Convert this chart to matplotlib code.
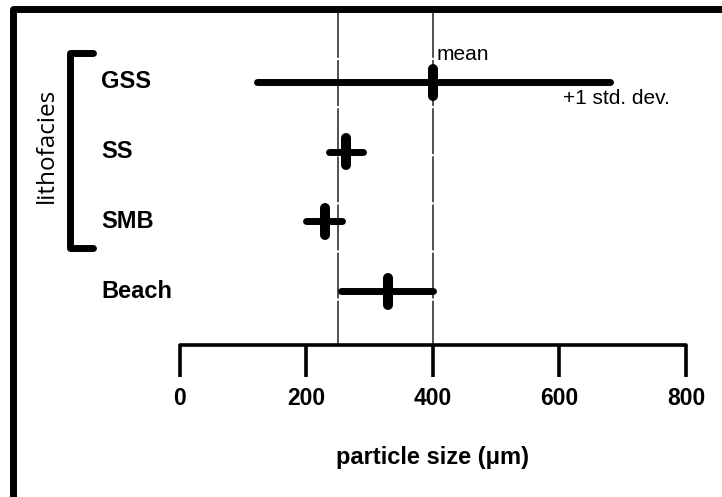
import matplotlib
matplotlib.use("Agg")
import matplotlib.pyplot as plt
from matplotlib.patches import Rectangle

# ---- data ----
categories = ["GSS", "SS", "SMB", "Beach"]
means = [400, 263, 230, 330]
lows = [122, 236, 200, 255]
highs = [680, 290, 257, 400]
ref_lines = [250, 400]
xticks = [0, 200, 400, 600, 800]
xlabel = "particle size (\u03bcm)"
group_label = "lithofacies"

W, H, DPI = 722, 497, 100
fig = plt.figure(figsize=(W / DPI, H / DPI), dpi=DPI)
plt.rcParams['font.family'] = ['Liberation Sans', 'DejaVu Sans']

# pixel mapping: x=0 -> 179.5 px, x=800 -> 686 px
px0, px800 = 179.5, 686.0
sx = (px800 - px0) / 800.0
xmin = -px0 / sx
xmax = (W - px0) / sx
# y: row 0 -> 82 px from top, row 3 -> 291 px
py0, py3 = 82.0, 291.0
sy = (py3 - py0) / 3.0
ytop = -py0 / sy
ybot = (H - py0) / sy

ax = fig.add_axes([0, 0, 1, 1])
ax.set_xlim(xmin, xmax)
ax.set_ylim(ybot, ytop)
ax.axis("off")

def ypx(py):
    return (py - py0) / sy

def xpx(px):
    return (px - px0) / sx

axis_py = 345.0
half = 13.5 / sy

# reference lines
for v in ref_lines:
    ax.plot([v, v], [ypx(12), ypx(axis_py)], color="#222222", lw=1.1,
            linestyle=(0, (30, 1.5)), zorder=1)

# bars
for i, (m, lo, hi) in enumerate(zip(means, lows, highs)):
    ax.plot([lo, hi], [i, i], color="black", lw=5.0, solid_capstyle="round", zorder=3)
    ax.plot([m, m], [i - half, i + half], color="black", lw=7.2,
            solid_capstyle="round", zorder=4)
    ax.text(xpx(101), i, categories[i], fontsize=17, fontweight="bold",
            ha="left", va="center")

ax.text(means[0] + 4 / sx, ypx(55), "mean", fontsize=15, ha="left", va="center")
ax.text(xpx(670), ypx(98), "+1 std. dev.", fontsize=15, ha="right", va="center")

# bracket
ax.plot([xpx(93), xpx(70), xpx(70), xpx(93)],
        [ypx(53), ypx(53), ypx(248), ypx(248)], color="black", lw=5.0,
        solid_capstyle="round", solid_joinstyle="round", clip_on=False)
ax.text(xpx(47), ypx(145), group_label, rotation=90, fontsize=17.5,
        family=["Open Sans", "DejaVu Sans"], ha="center", va="center")

# x axis
tick_len = 32.0
ax2 = fig.add_axes([px0 / W, (H - axis_py) / H, (px800 - px0) / W, 0.001])
ax2.set_xlim(0, 800)
ax2.patch.set_visible(False)
for s in ["top", "left", "right"]:
    ax2.spines[s].set_visible(False)
ax2.spines["bottom"].set_linewidth(2.6)
ax2.spines["bottom"].set_capstyle("round")
ax2.set_yticks([])
ax2.set_xticks(xticks)
ax2.set_xticklabels([str(t) for t in xticks], fontsize=16.5, fontweight="bold")
ax2.tick_params(axis="x", direction="out", length=tick_len * 72 / DPI,
                width=2.6, pad=7)
ax2.set_xlabel(xlabel, fontsize=17, fontweight="bold", labelpad=26)

# frame
frame = Rectangle((12.5 / W, -2 / H), 1.0, (H - 9 + 2) / H,
                  transform=fig.transFigure, fill=False, lw=5.0,
                  edgecolor="black", joinstyle="round", clip_on=False)
fig.patches.append(frame)

fig.savefig("out.png", dpi=DPI)
